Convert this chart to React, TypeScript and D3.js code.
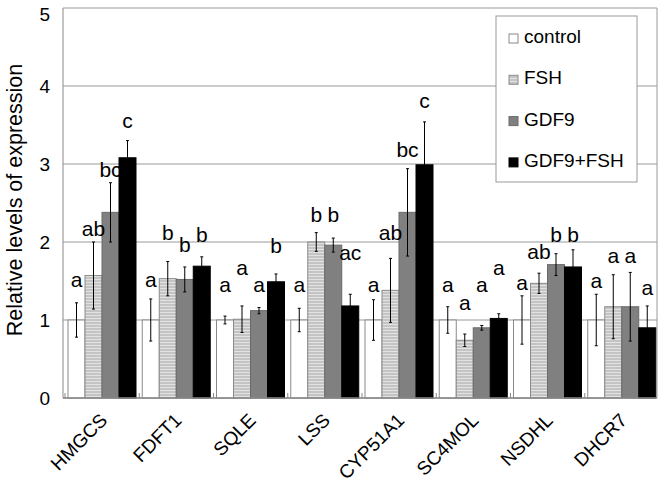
import React from "react";
import * as d3 from "d3";

const genes = ["HMGCS", "FDFT1", "SQLE", "LSS", "CYP51A1", "SC4MOL", "NSDHL", "DHCR7"];
const seriesNames = ["control", "FSH", "GDF9", "GDF9+FSH"];

const controlVals = [1, 1, 1, 1, 1, 1, 1, 1];
const fshVals = [1.57, 1.53, 1.01, 2.0, 1.38, 0.74, 1.47, 1.17];
const gdf9Vals = [2.38, 1.52, 1.12, 1.96, 2.38, 0.9, 1.71, 1.17];
const bothVals = [3.08, 1.69, 1.49, 1.18, 2.99, 1.02, 1.68, 0.9];

const controlErr = [0.22, 0.27, 0.05, 0.15, 0.26, 0.17, 0.31, 0.33];
const fshErr = [0.43, 0.22, 0.17, 0.12, 0.41, 0.08, 0.13, 0.41];
const gdf9Err = [0.38, 0.16, 0.04, 0.09, 0.56, 0.03, 0.14, 0.44];
const bothErr = [0.22, 0.12, 0.1, 0.15, 0.55, 0.06, 0.22, 0.28];

const controlLetters = ["a", "a", "a", "a", "a", "a", "a", "a"];
const fshLetters = ["ab", "b", "a", "b", "ab", "a", "ab", "a"];
const gdf9Letters = ["bc", "b", "a", "b", "bc", "a", "b", "a"];
const bothLetters = ["c", "b", "b", "ac", "c", "a", "b", "a"];

// annotation heights (value units, baseline of letter)
const controlLetterAt = [1.42, 1.42, 1.36, 1.36, 1.36, 1.36, 1.38, 1.41];
const fshLetterAt = [2.08, 2.03, 1.58, 2.26, 2.03, 1.13, 1.78, 1.73];
const gdf9LetterAt = [2.83, 1.87, 1.36, 2.26, 3.09, 1.36, 2.0, 1.73];
const bothLetterAt = [3.46, 2.0, 1.86, 1.77, 3.72, 1.58, 2.0, 1.32];

const yTicks = [0, 1, 2, 3, 4, 5];

const seriesData = [
  { name: seriesNames[0], vals: controlVals, errs: controlErr, letters: controlLetters, at: controlLetterAt },
  { name: seriesNames[1], vals: fshVals, errs: fshErr, letters: fshLetters, at: fshLetterAt },
  { name: seriesNames[2], vals: gdf9Vals, errs: gdf9Err, letters: gdf9Letters, at: gdf9LetterAt },
  { name: seriesNames[3], vals: bothVals, errs: bothErr, letters: bothLetters, at: bothLetterAt },
];

const fills = ["#ffffff", "url(#fshPat)", "#808080", "#000000"];
const strokes = ["#8a8a8a", "#8a8a8a", "#6a6a6a", "#000000"];
const FONT = "Arial, 'Liberation Sans', sans-serif";

export default function App() {
  const left = 63, right = 657, top = 8, bottom = 398;
  const x = d3.scaleBand<string>().domain(genes).range([left, right]);
  const inner = d3.scaleBand<string>().domain(seriesNames).range([5, 73]);
  const y = d3.scaleLinear().domain([0, 5]).range([bottom, top]);
  const bw = inner.bandwidth();

  return (
    <svg width={660} height={478} style={{ position: "absolute", left: 0, top: 0, background: "#fff" }} fontFamily={FONT}>
      <defs>
        <pattern id="fshPat" width={4} height={3} patternUnits="userSpaceOnUse">
          <rect width={4} height={3} fill="#c4c4c4" />
          <rect width={4} height={1} fill="#e2e2e2" />
        </pattern>
      </defs>
      <rect x={0} y={0} width={660} height={478} fill="#fff" />
      {yTicks.map((t) => (
        <line key={t} x1={left} x2={right} y1={y(t)} y2={y(t)} stroke="#9a9a9a" strokeWidth={1} />
      ))}
      <line x1={right} x2={right} y1={top} y2={bottom} stroke="#9a9a9a" />
      <line x1={left} x2={left} y1={top} y2={bottom} stroke="#8a8a8a" />
      {seriesData.map((s, si) =>
        genes.map((g, gi) => {
          const bx = (x(g) as number) + (inner(s.name) as number);
          const v = s.vals[gi];
          return (
            <rect key={s.name + g} x={bx} y={y(v)} width={bw} height={y(0) - y(v)} fill={fills[si]} stroke={strokes[si]} strokeWidth={1} />
          );
        })
      )}
      {seriesData.map((s) =>
        genes.map((g, gi) => {
          const cx = (x(g) as number) + (inner(s.name) as number) + bw / 2;
          const v = s.vals[gi];
          const e = s.errs[gi];
          return (
            <g key={"e" + s.name + g} stroke="#000" strokeWidth={1}>
              <line x1={cx} x2={cx} y1={y(v + e)} y2={y(v - e)} />
              <line x1={cx - 1.5} x2={cx + 1.5} y1={y(v + e)} y2={y(v + e)} />
              <line x1={cx - 1.5} x2={cx + 1.5} y1={y(v - e)} y2={y(v - e)} />
            </g>
          );
        })
      )}
      {seriesData.map((s) =>
        genes.map((g, gi) => {
          const cx = (x(g) as number) + (inner(s.name) as number) + bw / 2;
          return (
            <text key={"l" + s.name + g} x={cx} y={y(s.at[gi])} textAnchor="middle" fontSize={21} fill="#000">
              {s.letters[gi]}
            </text>
          );
        })
      )}
      <line x1={left} x2={right} y1={bottom} y2={bottom} stroke="#8a8a8a" strokeWidth={1.5} />
      {genes.map((g) => (
        <line key={"t" + g} x1={(x(g) as number) + 2} x2={(x(g) as number) + 2} y1={bottom} y2={bottom - 5} stroke="#8a8a8a" />
      ))}
      {genes.map((g) => {
        const cx = (x(g) as number) + x.bandwidth() / 2 - 1;
        return (
          <text key={"x" + g} transform={`translate(${cx},${bottom + 14}) rotate(-45)`} textAnchor="end" dy="0.7em" fontSize={19} fill="#000">
            {g}
          </text>
        );
      })}
      {yTicks.map((t) => (
        <text key={"y" + t} x={50} y={Math.max(y(t), 14)} dy="0.35em" textAnchor="end" fontSize={19} fill="#000">
          {t}
        </text>
      ))}
      <text transform={`translate(22,${(top + bottom) / 2 - 3}) rotate(-90)`} textAnchor="middle" fontSize={21.5} fill="#000">
        Relative levels of expression
      </text>
      <rect x={496} y={16} width={141} height={166} fill="#fff" stroke="#9a9a9a" />
      {seriesNames.map((n, i) => (
        <g key={"lg" + n}>
          <rect x={509} y={34 + i * 41.3} width={9} height={9} fill={fills[i]} stroke={strokes[i]} />
          <text x={524} y={43 + i * 41.3} fontSize={19} fill="#000">
            {n}
          </text>
        </g>
      ))}
    </svg>
  );
}
